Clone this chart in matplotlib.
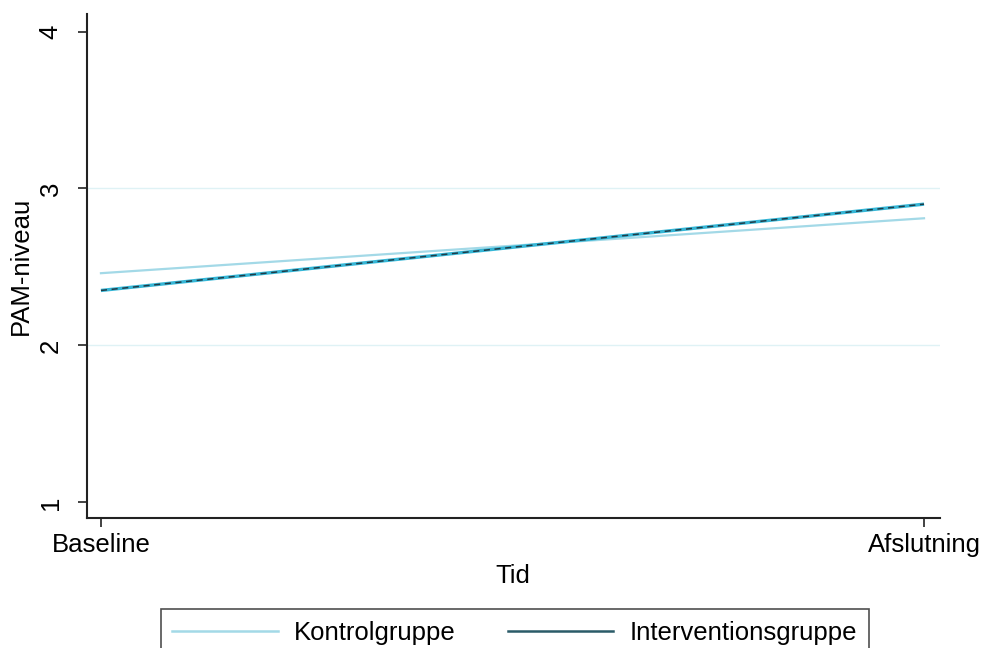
import matplotlib
matplotlib.use("Agg")
import matplotlib.pyplot as plt
from matplotlib.lines import Line2D

plt.rcParams['font.family'] = ['Liberation Sans', 'DejaVu Sans']

time_labels = ["Baseline", "Afslutning"]
time_pos = [0, 1]
kontrol = [2.46, 2.81]
intervention = [2.35, 2.90]
yticks = [1, 2, 3, 4]

FS = 18.5

fig = plt.figure(figsize=(9.86, 6.48), dpi=100)
ax = fig.add_axes([0.0882, 0.2006, 0.953 - 0.0882, 0.978 - 0.2006])

for g in [2, 3]:
    ax.axhline(g, color='#dff2f5', lw=1.0, zorder=0)

ax.plot(time_pos, kontrol, color='#a3d9e7', lw=1.6, zorder=2)
ax.plot(time_pos, intervention, color='#35b6d6', lw=2.4, zorder=3, solid_capstyle='butt')
ax.plot(time_pos, intervention, color='#1e3c48', lw=1.1, zorder=4, dashes=(4, 3))

ax.set_xlim(-0.017, 1.019)
ax.set_ylim(0.9, 4.11)
ax.set_xticks(time_pos)
ax.set_xticklabels(time_labels, fontsize=FS)
ax.set_yticks(yticks)
ax.set_yticklabels([str(v) for v in yticks], fontsize=FS, rotation=90, va='center')
ax.tick_params(axis='both', length=6.5, width=1.2, color='#222222')
ax.tick_params(axis='x', pad=4)
ax.tick_params(axis='y', pad=11)
for s in ['top', 'right']:
    ax.spines[s].set_visible(False)
for s in ['left', 'bottom']:
    ax.spines[s].set_linewidth(1.5)
    ax.spines[s].set_color('#222222')

ax.set_xlabel("Tid", fontsize=FS, labelpad=5)
ax.set_ylabel("PAM-niveau", fontsize=FS, labelpad=4)

handles = [Line2D([0], [0], color='#a3d9e7', lw=1.8),
           Line2D([0], [0], color='#2a5b68', lw=1.8)]
leg = fig.legend(handles, ["Kontrolgruppe", "Interventionsgruppe"],
                 loc='upper center', bbox_to_anchor=(0.522, 0.0602),
                 ncol=2, fontsize=FS, frameon=True, fancybox=False,
                 edgecolor='#222222', handlelength=4.1, columnspacing=2.0,
                 borderpad=0.45, handletextpad=0.65, borderaxespad=0)
leg.get_frame().set_linewidth(1.2)

fig.savefig("out.png", dpi=100, facecolor='white')
